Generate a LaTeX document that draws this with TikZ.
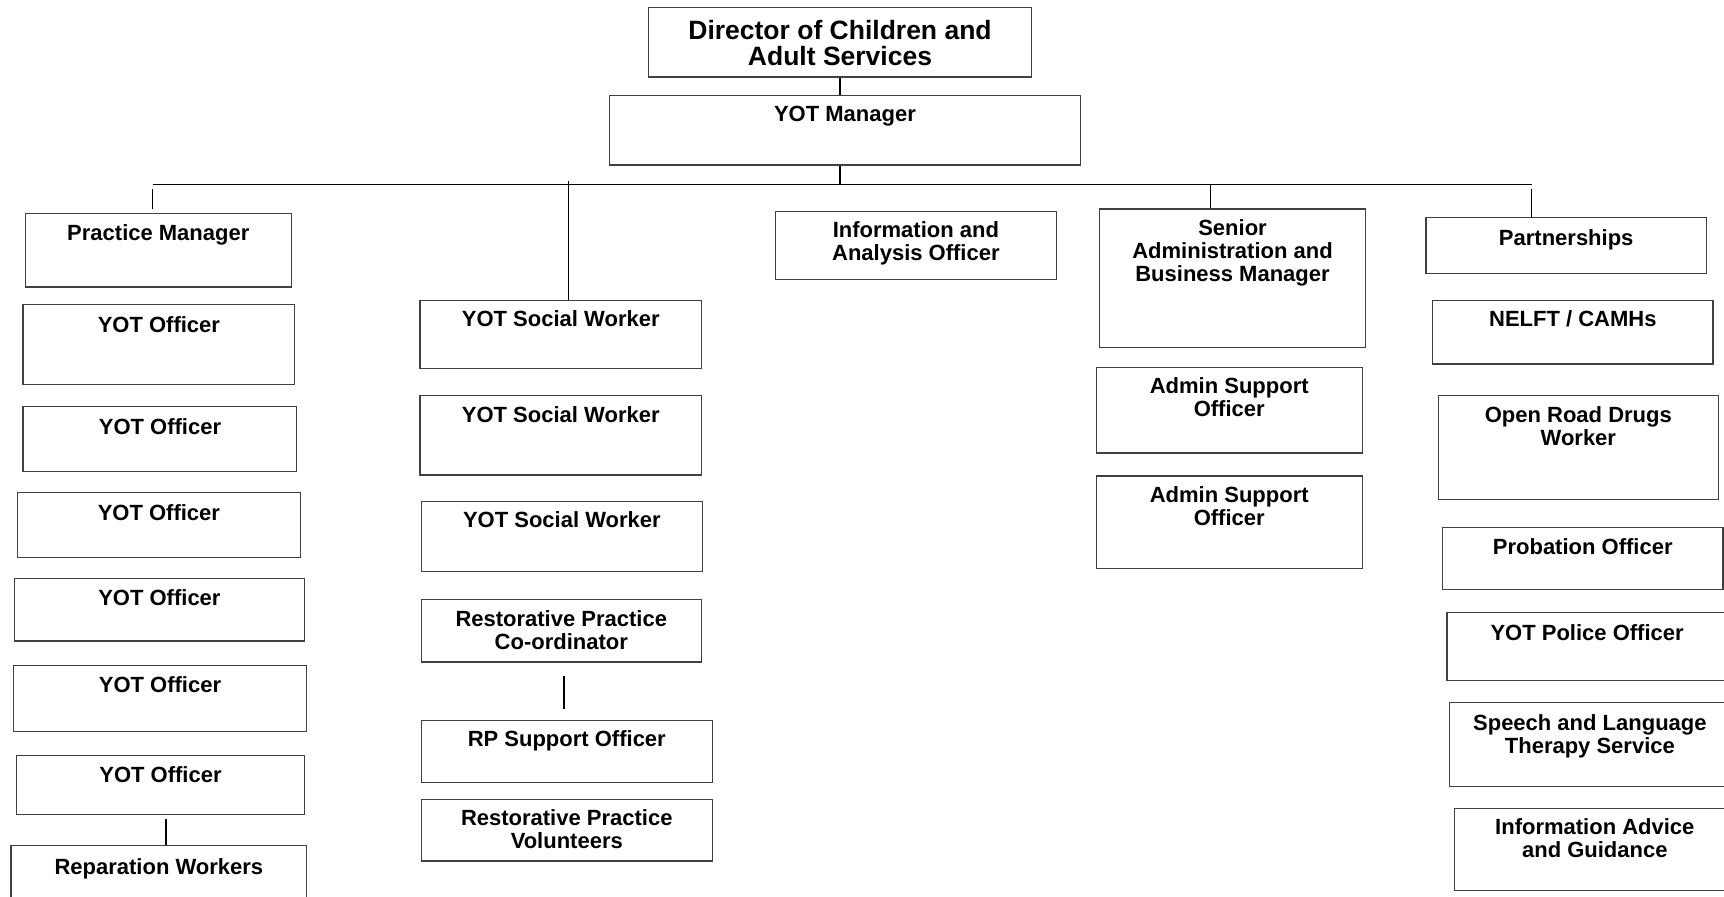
\documentclass[tikz,border=0pt]{standalone}
\usepackage{fontspec}
\setmainfont{Liberation Sans}
\usetikzlibrary{calc,fit}
\tikzset{
  post/.style={draw=black!75, line width=1.2pt, inner sep=0pt},
  posttext/.style={anchor=north, inner sep=0pt, align=center, font=\fontsize{22}{22.8}\selectfont\bfseries},
  bigtext/.style={posttext, font=\fontsize{26.5}{26.3}\selectfont\bfseries},
  wire/.style={draw=black, line width=1.1pt}
}
\def\postnode{\node[post]}

\begin{document}
\begin{tikzpicture}[x=1.0995pt,y=-1.0995pt]
\useasboundingbox (0,0) rectangle (1568,815);
\clip (0,0) rectangle (1568,815);

% ---------- top of the tree
\postnode[fit={(590,7) (938,70)}] (dir) {};
\node[bigtext] (dir_t) at ($ (dir.north) + (0,12) $) {Director of Children and\\Adult Services};
\postnode[fit={(554,87) (983,150)}] (mgr) {};
\node[posttext] (mgr_t) at ($ (mgr.north) + (0,10) $) {YOT Manager};

% the bus under the manager
\coordinate (bus_l) at (139,168);
\coordinate (bus_r) at (1393,168);
\coordinate (sw_top) at (517,165); % social workers line starts just over the bus
\coordinate (sam_drop) at (1101,168);
\coordinate (pm_tick) at (139,190);
\draw[wire] (dir.south) to (dir.south |- mgr.north);
\draw[wire] (dir.south |- mgr.south) to (dir.south |- bus_l);
\draw[wire] (bus_l) to (bus_r);
\draw[wire] ($ (bus_l) + (0,4) $) to (pm_tick);
\draw[wire] (sam_drop) to (sam_drop |- 0,190);
\draw[wire] ($ (bus_r) + (0,4) $) to (bus_r |- 0,198);

% ---------- practice manager column
\postnode[fit={(23,194) (265,261)}] (pm) {};
\node[posttext] (pm_t) at ($ (pm.north) + (0,11) $) {Practice Manager};
\postnode[fit={(21,277) (268,350)}] (yo1) {};
\node[posttext] (yo1_t) at ($ (yo1.north) + (0,11) $) {YOT Officer};
\postnode[fit={(21,370) (270,429)}] (yo2) {};
\node[posttext] (yo2_t) at ($ (yo2.north) + (0,11) $) {YOT Officer};
\postnode[fit={(16,448) (273,507)}] (yo3) {};
\node[posttext] (yo3_t) at ($ (yo3.north) + (0,11) $) {YOT Officer};
\postnode[fit={(13,526) (277,583)}] (yo4) {};
\node[posttext] (yo4_t) at ($ (yo4.north) + (0,11) $) {YOT Officer};
\postnode[fit={(12,605) (279,665)}] (yo5) {};
\node[posttext] (yo5_t) at ($ (yo5.north) + (0,11) $) {YOT Officer};
\postnode[fit={(15,687) (277,741)}] (yo6) {};
\node[posttext] (yo6_t) at ($ (yo6.north) + (0,11) $) {YOT Officer};
\postnode[fit={(10,769) (279,830)}] (rep) {};
\node[posttext] (rep_t) at ($ (rep.north) + (0,12) $) {Reparation Workers};
\coordinate (rep_link) at (151,745);
\draw[wire] (rep_link) to (rep_link |- rep.north);

% ---------- social workers column
\postnode[fit={(382,273) (638,335)}] (sw1) {};
\node[posttext] (sw1_t) at ($ (sw1.north) + (0,10) $) {YOT Social Worker};
\postnode[fit={(382,360) (638,432)}] (sw2) {};
\node[posttext] (sw2_t) at ($ (sw2.north) + (0,10) $) {YOT Social Worker};
\postnode[fit={(383,456) (639,520)}] (sw3) {};
\node[posttext] (sw3_t) at ($ (sw3.north) + (0,10) $) {YOT Social Worker};
\postnode[fit={(383,545) (638,602)}] (rpc) {};
\node[posttext] (rpc_t) at ($ (rpc.north) + (0,11) $) {Restorative Practice\\Co-ordinator};
\postnode[fit={(383,655) (648,712)}] (rps) {};
\node[posttext] (rps_t) at ($ (rps.north) + (0,10) $) {RP Support Officer};
\postnode[fit={(383,727) (648,783)}] (rpv) {};
\node[posttext] (rpv_t) at ($ (rpv.north) + (0,10) $) {Restorative Practice\\Volunteers};
\draw[wire] (sw_top) to (sw_top |- sw1.north);
\coordinate (rp_link) at (513,615);
\draw[wire] (rp_link) to (rp_link |- 0,645);

% ---------- information officer
\postnode[fit={(705,192) (961,254)}] (info) {};
\node[posttext] (info_t) at ($ (info.north) + (0,10) $) {Information and\\Analysis Officer};

% ---------- admin column
\postnode[fit={(1000,190) (1242,316)}] (sam) {};
\node[posttext] (sam_t) at ($ (sam.north) + (0,10) $) {Senior\\Administration and\\Business Manager};
\postnode[fit={(997,334) (1239,412)}] (aso1) {};
\node[posttext] (aso1_t) at ($ (aso1.north) + (0,10) $) {Admin Support\\Officer};
\postnode[fit={(997,433) (1239,517)}] (aso2) {};
\node[posttext] (aso2_t) at ($ (aso2.north) + (0,10) $) {Admin Support\\Officer};

% ---------- partnerships column
\postnode[fit={(1297,198) (1552,249)}] (part) {};
\node[posttext] (part_t) at ($ (part.north) + (0,11) $) {Partnerships};
\postnode[fit={(1303,273) (1558,331)}] (nelft) {};
\node[posttext] (nelft_t) at ($ (nelft.north) + (0,10) $) {NELFT / CAMHs};
\postnode[fit={(1308,360) (1563,454)}] (drugs) {};
\node[posttext] (drugs_t) at ($ (drugs.north) + (0,10) $) {Open Road Drugs\\Worker};
\postnode[fit={(1312,480) (1567,536)}] (prob) {};
\node[posttext] (prob_t) at ($ (prob.north) + (0,10) $) {Probation Officer};
\postnode[fit={(1316,557) (1571,619)}] (police) {};
\node[posttext] (police_t) at ($ (police.north) + (0,11) $) {YOT Police Officer};
\postnode[fit={(1318,639) (1574,715)}] (salt) {};
\node[posttext] (salt_t) at ($ (salt.north) + (0,11) $) {Speech and Language\\Therapy Service};
\postnode[fit={(1323,735) (1578,810)}] (iag) {};
\node[posttext] (iag_t) at ($ (iag.north) + (0,10) $) {Information Advice\\and Guidance};
\end{tikzpicture}
\end{document}
